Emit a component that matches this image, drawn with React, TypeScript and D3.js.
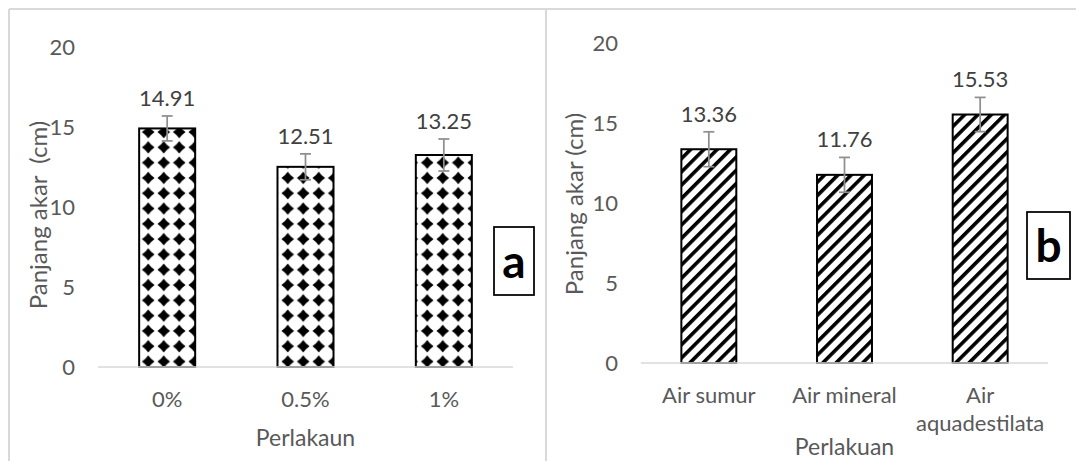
import React from 'react'
import * as d3 from 'd3'

// panel a
const leftCategories = ['0%', '0.5%', '1%']
const leftValues = [14.91, 12.51, 13.25]
const leftErrors = [0.78, 0.81, 1.0]

// panel b
const rightCategories = ['Air sumur', 'Air mineral', 'Air aquadestilata']
const rightValues = [13.36, 11.76, 15.53]
const rightErrors = [1.09, 1.09, 1.07]

const yTicks = [0, 5, 10, 15, 20]

const FONT = "Lato, 'Open Sans', sans-serif"
const GRID = '#d9d9d9'
const TXT = '#595959'

type Geom = {
  x0: number
  x1: number
  yTop: number
  yBase: number
  tickX: number
  titleX: number
  titleY: number
  catY: number
  xTitleY: number
  box: { x: number; y: number; w: number; h: number }
}

function wrap(label: string): string[] {
  if (label.length <= 12) return [label]
  const i = label.indexOf(' ')
  return i < 0 ? [label] : [label.slice(0, i), label.slice(i + 1)]
}

function Panel({ cats, vals, errs, yTitle, xTitle, letter, geom, fill }: {
  cats: string[]; vals: number[]; errs: number[]; yTitle: string; xTitle: string
  letter: string; geom: Geom; fill: string
}) {
  const y = d3.scaleLinear().domain([0, 20]).range([geom.yBase, geom.yTop])
  const x = d3.scaleBand<string>().domain(cats).range([geom.x0, geom.x1]).padding(0)
  const bw = x.bandwidth() * 0.405
  const cx = (c: string) => (x(c) as number) + x.bandwidth() / 2

  return (
    <g fontFamily={FONT}>
      {yTicks.map((t) => (
        <text key={t} x={geom.tickX} y={y(t)} dy="0.36em" textAnchor="end" fontSize={22} fill={TXT}>{t}</text>
      ))}
      {cats.map((c, i) => (
        <g key={c}>
          <rect x={cx(c) - bw / 2} y={y(vals[i])} width={bw} height={y(0) - y(vals[i])}
            fill={fill} stroke="#000" strokeWidth={2} />
          <g stroke="#8f8f8f" strokeWidth={1.75}>
            <line x1={cx(c)} x2={cx(c)} y1={y(vals[i] + errs[i])} y2={y(vals[i] - errs[i])} />
            <line x1={cx(c) - 5.5} x2={cx(c) + 5.5} y1={y(vals[i] + errs[i])} y2={y(vals[i] + errs[i])} />
            <line x1={cx(c) - 5.5} x2={cx(c) + 5.5} y1={y(vals[i] - errs[i])} y2={y(vals[i] - errs[i])} />
          </g>
          <text x={cx(c)} y={y(vals[i] + errs[i]) - 10} textAnchor="middle" fontSize={22} fill="#404040">
            {vals[i].toFixed(2)}
          </text>
          {wrap(c).map((ln, j) => (
            <text key={j} x={cx(c)} y={geom.catY + j * 28} textAnchor="middle" fontSize={22} fill={TXT}>{ln}</text>
          ))}
        </g>
      ))}
      <line x1={geom.x0} x2={geom.x1} y1={y(0)} y2={y(0)} stroke={GRID} strokeWidth={1.5} />
      <text x={(geom.x0 + geom.x1) / 2} y={geom.xTitleY} textAnchor="middle" fontSize={23} fill={TXT}>{xTitle}</text>
      <text transform={`translate(${geom.titleX},${geom.titleY}) rotate(-90)`} dy="0.36em"
        textAnchor="middle" fontSize={24} fill={TXT} style={{ whiteSpace: 'pre' }}>{yTitle}</text>
      <rect x={geom.box.x} y={geom.box.y} width={geom.box.w} height={geom.box.h}
        fill="#fff" stroke="#000" strokeWidth={1.75} />
      <text x={geom.box.x + geom.box.w / 2} y={geom.box.y + geom.box.h / 2} dy="0.36em"
        textAnchor="middle" fontSize={46} fontWeight={700} fill="#000">{letter}</text>
    </g>
  )
}

export default function App() {
  const W = 1076
  const H = 461
  return (
    <svg width={W} height={H} style={{ position: 'absolute', left: 0, top: 0, background: '#fff' }}>
      <defs>
        <pattern id="stars" patternUnits="userSpaceOnUse" width={15.5} height={15.3} x={1} y={2}>
          <rect width={15.5} height={15.3} fill="#fff" />
          <path d="M7.75,1.35 Q10.35,5.05 14.05,7.65 Q10.35,10.25 7.75,13.95 Q5.15,10.25 1.45,7.65 Q5.15,5.05 7.75,1.35 Z" fill="#000" />
        </pattern>
        <pattern id="stripes" patternUnits="userSpaceOnUse" width={9.4} height={9.4} patternTransform="rotate(45)">
          <rect width={9.4} height={9.4} fill="#fff" />
          <rect width={3.6} height={9.4} fill="#000" />
        </pattern>
      </defs>
      <rect width={W} height={H} fill="#fff" />
      <g stroke={GRID} strokeWidth={2}>
        <line x1={9} x2={W} y1={9} y2={9} />
        <line x1={9} x2={9} y1={9} y2={H} />
        <line x1={546} x2={546} y1={9} y2={H} />
      </g>
      <Panel cats={leftCategories} vals={leftValues} errs={leftErrors}
        yTitle="Panjang akar  (cm)" xTitle="Perlakaun" letter="a" fill="url(#stars)"
        geom={{ x0: 98, x1: 513, yTop: 47, yBase: 367, tickX: 75, titleX: 38, titleY: 215,
          catY: 407, xTitleY: 446, box: { x: 494, y: 227, w: 40, h: 68 } }} />
      <Panel cats={rightCategories} vals={rightValues} errs={rightErrors}
        yTitle="Panjang akar (cm)" xTitle="Perlakuan" letter="b" fill="url(#stripes)"
        geom={{ x0: 641, x1: 1048, yTop: 43, yBase: 363, tickX: 618, titleX: 574, titleY: 204,
          catY: 403, xTitleY: 455, box: { x: 1027, y: 212, w: 43, h: 67 } }} />
    </svg>
  )
}
